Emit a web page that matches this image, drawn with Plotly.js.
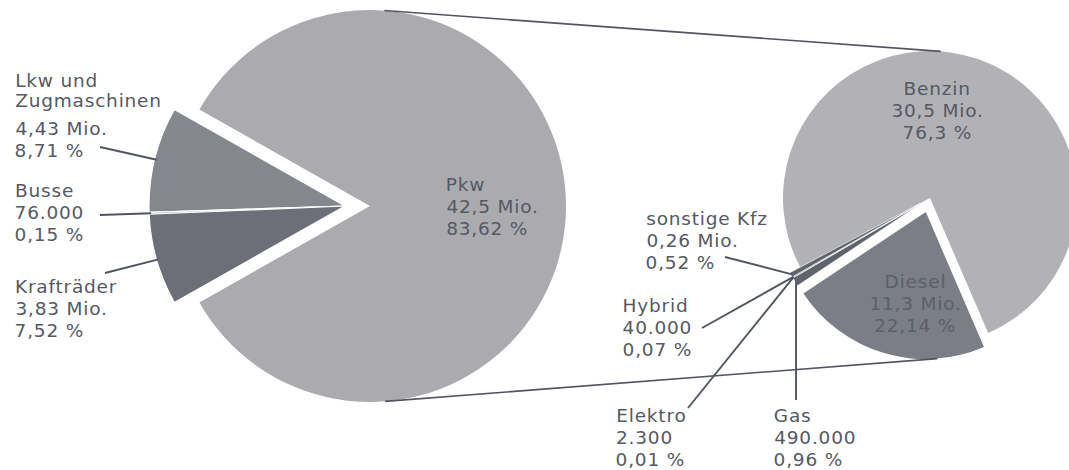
<!DOCTYPE html>
<html><head><meta charset="utf-8">
<script src="https://cdn.plot.ly/plotly-3.0.1.min.js"></script>
<style>
html,body{margin:0;padding:0;overflow:hidden;background:#fff}
#chart{width:1100px;height:470px}
</style>
</head><body><div id="chart"></div>
<script>
// ---------- DATA ----------
const mainNames   = ['Pkw', 'Lkw und\nZugmaschinen', 'Busse', 'Krafträder'];
const mainAmounts = ['42,5 Mio.', '4,43 Mio.', '76.000', '3,83 Mio.'];
const mainShares  = [83.62, 8.71, 0.15, 7.52];

const fuelNames   = ['Benzin', 'Diesel', 'Gas', 'Elektro', 'Hybrid', 'sonstige Kfz'];
const fuelAmounts = ['30,5 Mio.', '11,3 Mio.', '490.000', '2.300', '40.000', '0,26 Mio.'];
const fuelShares  = [76.3, 22.14, 0.96, 0.01, 0.07, 0.52];

// ---------- STYLE / LAYOUT ----------
const W = 1100, H = 470;
const FONT = '"DejaVu Sans", Verdana, sans-serif';
const FS = 18.5, LH = 22, LS = 0.8;
const TXT = '#555963';
const LINEC = '#50555f';
const T = 'rgba(0,0,0,0)';
const mainColors = ['#aaaaaf', '#85878e', '#9a9ca2', '#6c6f78'];
const fuelColors = ['#b1b1b6', '#7b7e86', '#5f636c', '#5f636c', '#5f636c', '#5f636c'];

const st = document.createElement('style');
st.textContent = '#chart .annotation-text{letter-spacing:' + LS + 'px}';
document.head.appendChild(st);

const LP = {cx: 370, cy: 206, r: 196, shift: 25};   // main pie
const RP = {cx: 930, cy: 198, r: 147};              // fuel pie
const fuelPull = [0, 0.10, 0.08, 0.08, 0.08, 0.08];
const fuelRotation = -118;

const mainLabelPos = [
  {x: 445, y: 191, a: 'left'},
  {x: 14, y: 87, a: 'left', gap: 6, lh: 20},
  {x: 14, y: 197, a: 'left'},
  {x: 14, y: 293, a: 'left'}
];
const mainLeaderFrom = [null, [100, 147], [100, 215], [105, 273]];
const fuelLabelPos = [
  {x: 937, y: 95, a: 'center'},
  {x: 915, y: 288, a: 'center', color: '#5b5f68'},
  {x: 773, y: 422, a: 'left'},
  {x: 615, y: 422, a: 'left'},
  {x: 622, y: 312, a: 'left'},
  {x: 645, y: 225, a: 'left'}
];
const fuelLeaderFrom = [null, null, ['v', 400], [688, 408], [702, 328], [725, 257]];

// ---------- GEOMETRY HELPERS (same rules as plotly pie) ----------
function sliceAngles(values, rotation, direction) {
  const total = values.reduce((s, v) => s + v, 0);
  let f = 2 * Math.PI / total;
  let a = rotation * Math.PI / 180;
  if (direction === 'counterclockwise') { a += f * values[0]; f = -f; }
  return values.map(v => { const s = a; a += f * v; return {start: s, mid: (s + a) / 2, end: a}; });
}
function pt(cx, cy, r, ang) { return [cx + r * Math.sin(ang), cy - r * Math.cos(ang)]; }
function px2x(px) { return px / W; }
function px2y(py) { return 1 - py / H; }
function domainFor(cx, cy, half) {
  return {x: [px2x(cx - half), px2x(cx + half)], y: [px2y(cy + half), px2y(cy - half)]};
}
function extTangent(c1, r1, c2, r2, side) {
  const dx = c2[0] - c1[0], dy = c2[1] - c1[1];
  const D = Math.hypot(dx, dy);
  const th = Math.atan2(dy, dx) + side * Math.acos((r1 - r2) / D);
  const n = [Math.cos(th), Math.sin(th)];
  return [[c1[0] + r1 * n[0], c1[1] + r1 * n[1]], [c2[0] + r2 * n[0], c2[1] + r2 * n[1]]];
}
const fmtShare = v => String(v).replace('.', ',') + ' %';

// ---------- MAIN PIE ----------
const smallShare = mainShares.slice(1).reduce((s, v) => s + v, 0);
const mainTotal = mainShares.reduce((s, v) => s + v, 0);
const mainRotation = smallShare / mainTotal * 180 - 90;
const mainAng = sliceAngles(mainShares, mainRotation, 'counterclockwise');

const traces = [];
traces.push({
  type: 'pie', values: mainShares, labels: mainNames, sort: false, direction: 'counterclockwise',
  rotation: mainRotation, textinfo: 'none', hoverinfo: 'none',
  marker: {colors: mainColors.map((c, i) => i === 0 ? c : T), line: {color: '#fff', width: 0}},
  domain: domainFor(LP.cx, LP.cy, LP.r)
});
traces.push({
  type: 'pie', values: mainShares, labels: mainNames, sort: false, direction: 'counterclockwise',
  rotation: mainRotation, textinfo: 'none', hoverinfo: 'none',
  marker: {colors: mainColors.map((c, i) => i === 0 ? T : c), line: {color: '#fff', width: mainShares.map((v, i) => i === 0 ? 0 : 1.2)}},
  domain: domainFor(LP.cx - LP.shift, LP.cy, LP.r)
});

// ---------- FUEL PIE ----------
const maxPull = Math.max(...fuelPull);
const fuelAng = sliceAngles(fuelShares, fuelRotation, 'clockwise');
traces.push({
  type: 'pie', values: fuelShares, labels: fuelNames, sort: false, direction: 'clockwise',
  rotation: fuelRotation, pull: fuelPull, textinfo: 'none', hoverinfo: 'none',
  marker: {colors: fuelColors, line: {color: '#fff', width: fuelShares.map((v, i) => i < 2 ? 0 : 0.5)}},
  domain: domainFor(RP.cx, RP.cy, RP.r * (1 + maxPull))
});

// ---------- LABELS ----------
const annotations = [];
const shapes = [];
function addLabel(pos, name, amount, share) {
  const lines = name.split('\n');
  let y = pos.y;
  const all = [];
  lines.forEach(l => { all.push([l, y]); y += (pos.lh || LH); });
  y += (pos.gap || 0);
  if (pos.gap) y -= (pos.lh || LH) - LH;
  all.push([amount, y]); y += LH;
  all.push([share, y]);
  all.forEach(([t, by]) => {
    // letter-spacing is not in plotly's measured box: compensate for left anchored text
    const dx = pos.a === 'left' ? t.length * LS / 2 : 0;
    annotations.push({
      text: t, xref: 'paper', yref: 'paper', x: px2x(pos.x + dx), y: px2y(by - 0.346 * FS),
      xanchor: pos.a, yanchor: 'middle', showarrow: false, borderpad: 0,
      font: {family: FONT, size: FS, color: pos.color || TXT}
    });
  });
}
function addLine(p, q, w) {
  shapes.push({type: 'line', xref: 'paper', yref: 'paper',
    x0: px2x(p[0]), y0: px2y(p[1]), x1: px2x(q[0]), y1: px2y(q[1]),
    line: {color: LINEC, width: w || 1.9}});
}

mainNames.forEach((n, i) => {
  addLabel(mainLabelPos[i], n, mainAmounts[i], fmtShare(mainShares[i]));
  if (mainLeaderFrom[i]) {
    const tip = pt(LP.cx - LP.shift, LP.cy, LP.r - 2, mainAng[i].mid);
    addLine(mainLeaderFrom[i], tip);
  }
});

fuelNames.forEach((n, i) => {
  addLabel(fuelLabelPos[i], n, fuelAmounts[i], fmtShare(fuelShares[i]));
  const m = fuelAng[i].mid;
  const off = pt(0, 0, fuelPull[i] * RP.r, m);
  const tip = pt(RP.cx + off[0], RP.cy + off[1], RP.r - 1, m);
  const from = fuelLeaderFrom[i];
  if (from) {
    if (from[0] === 'v') addLine([tip[0], from[1]], tip);
    else addLine(from, tip);
  }
});

// connector lines (external tangents between the pies)
const dm = fuelAng[1].mid;
const dOff = pt(0, 0, fuelPull[1] * RP.r, dm);
const tanTop = extTangent([LP.cx, LP.cy], LP.r, [RP.cx, RP.cy], RP.r, -1);
const tanBot = extTangent([LP.cx, LP.cy], LP.r, [RP.cx + dOff[0], RP.cy + dOff[1]], RP.r, 1);
addLine(tanTop[0], tanTop[1], 1.6);
addLine(tanBot[0], tanBot[1], 1.6);

Plotly.newPlot('chart', traces, {
  width: W, height: H, margin: {l: 0, r: 0, t: 0, b: 0},
  paper_bgcolor: '#fff', plot_bgcolor: '#fff', showlegend: false,
  annotations: annotations, shapes: shapes,
  font: {family: FONT, size: FS, color: TXT}
}, {staticPlot: true});
</script>
</body></html>
